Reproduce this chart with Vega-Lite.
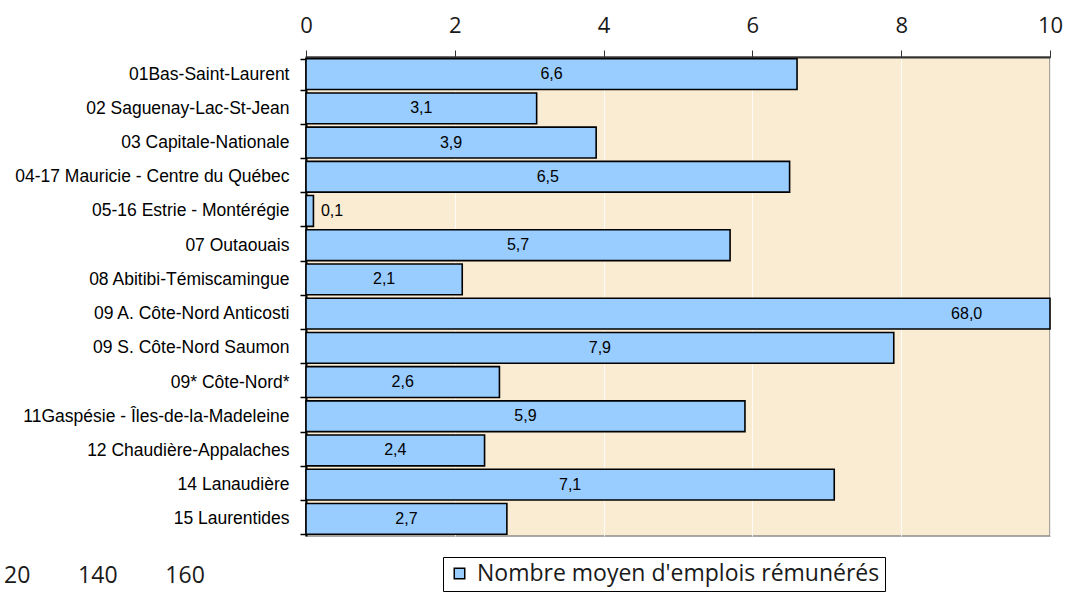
{
  "$schema": "https://vega.github.io/schema/vega-lite/v6.json",
  "width": 744,
  "height": 479,
  "autosize": {"type": "none"},
  "padding": {"left": 306, "top": 57, "right": 15, "bottom": 59},
  "background": "white",
  "config": {
    "view": {"fill": "#FAEBD3", "stroke": "#8c8c8c", "strokeWidth": 1.5},
    "axis": {"title": null}
  },
  "data": {
    "values": [
      {"region": "01Bas-Saint-Laurent", "value": 6.6},
      {"region": "02 Saguenay-Lac-St-Jean", "value": 3.1},
      {"region": "03 Capitale-Nationale", "value": 3.9},
      {"region": "04-17 Mauricie - Centre du Québec", "value": 6.5},
      {"region": "05-16 Estrie - Montérégie", "value": 0.1},
      {"region": "07 Outaouais", "value": 5.7},
      {"region": "08 Abitibi-Témiscamingue", "value": 2.1},
      {"region": "09 A. Côte-Nord Anticosti", "value": 68.0},
      {"region": "09 S. Côte-Nord Saumon", "value": 7.9},
      {"region": "09* Côte-Nord*", "value": 2.6},
      {"region": "11Gaspésie - Îles-de-la-Madeleine", "value": 5.9},
      {"region": "12 Chaudière-Appalaches", "value": 2.4},
      {"region": "14 Lanaudière", "value": 7.1},
      {"region": "15 Laurentides", "value": 2.7}
    ]
  },
  "title": {
    "text": "20\u00a0\u00a0\u00a0\u00a0\u00a0\u00a0\u00a0\u00a0140\u00a0\u00a0\u00a0\u00a0\u00a0\u00a0\u00a0\u00a0160",
    "orient": "bottom",
    "anchor": "start",
    "frame": "group",
    "dx": -302,
    "offset": -27,
    "font": "Open Sans",
    "fontSize": 23,
    "fontWeight": "normal",
    "color": "#1a1a1a"
  },
  "layer": [
    {
      "mark": {"type": "bar", "stroke": "black", "strokeWidth": 1.6},
      "encoding": {
        "y": {
          "field": "region",
          "type": "nominal",
          "sort": null,
          "scale": {"paddingInner": 0.1, "paddingOuter": 0.05},
          "axis": {
            "labelFont": "Liberation Sans",
            "labelFontSize": 17.5,
            "labelLimit": 0,
            "labelColor": "black",
            "domainColor": "black",
            "domainWidth": 2,
            "tickColor": "black",
            "tickSize": 6,
            "tickWidth": 1.5,
            "tickBand": "extent",
            "labelPadding": 11
          }
        },
        "x": {
          "field": "value",
          "type": "quantitative",
          "scale": {"domain": [0, 10], "clamp": true, "nice": false, "zero": true},
          "axis": {
            "orient": "top",
            "values": [0, 2, 4, 6, 8, 10],
            "format": "d",
            "labelFlush": false,
            "labelFont": "Open Sans",
            "labelFontSize": 22,
            "labelColor": "#1a1a1a",
            "labelPadding": 13,
            "tickSize": 7,
            "tickColor": "#333",
            "domainColor": "#333",
            "domainWidth": 2,
            "grid": true,
            "gridColor": "white",
            "gridOpacity": 0.8
          }
        },
        "color": {
          "datum": "Nombre moyen d'emplois rémunérés",
          "type": "nominal",
          "scale": {"range": ["#99CCFF"]},
          "legend": {
            "title": null,
            "orient": "none",
            "legendX": 137,
            "legendY": 500,
            "padding": 5,
            "strokeColor": "black",
            "fillColor": "white",
            "symbolType": "square",
            "symbolSize": 110,
            "symbolStrokeColor": "black",
            "symbolStrokeWidth": 1.5,
            "symbolOpacity": 1,
            "labelFont": "Open Sans",
            "labelFontSize": 23,
            "labelLimit": 0,
            "labelColor": "#1a1a1a",
            "labelOffset": 6
          }
        }
      }
    },
    {
      "transform": [
        {"calculate": "datum.value > 10 ? 8.88 : (datum.value < 0.5 ? datum.value + 0.25 : datum.value / 2)", "as": "pos"},
        {"calculate": "replace(format(datum.value, '.1f'), '.', ',')", "as": "label"}
      ],
      "mark": {"type": "text", "font": "Liberation Sans", "fontSize": 16, "color": "black", "align": "center", "baseline": "middle"},
      "encoding": {
        "y": {"field": "region", "type": "nominal", "sort": null},
        "x": {"field": "pos", "type": "quantitative"},
        "text": {"field": "label"}
      }
    }
  ]
}
